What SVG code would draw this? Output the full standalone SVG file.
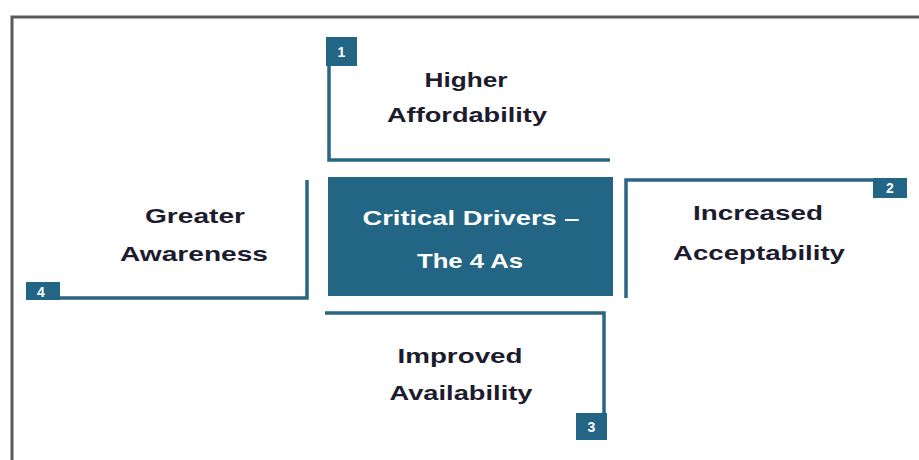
<svg xmlns="http://www.w3.org/2000/svg" width="919" height="460" viewBox="0 0 919 460">
<style>
.frame{fill:none;stroke:#5a5a5a;stroke-width:3}
.br{fill:none;stroke:#2a6683;stroke-width:3.5}
.badge{fill:#236584}
.num{font-family:"Liberation Sans",Arial,sans-serif;font-weight:bold;font-size:14px;fill:#ffffff;text-anchor:middle}
.lbl{font-family:"Liberation Sans",Arial,sans-serif;font-weight:bold;font-size:21px;fill:#1c1c2e;text-anchor:middle}
.ctr{font-family:"Liberation Sans",Arial,sans-serif;font-weight:bold;font-size:21px;fill:#ffffff;text-anchor:middle}
</style>
<rect width="919" height="460" fill="#ffffff"/>
<path class="frame" d="M12,460 V17 H919"/>
<g id="center">
<rect x="328" y="177" width="285" height="119" fill="#236584"/>
<text class="ctr" x="471" y="225" textLength="217" lengthAdjust="spacingAndGlyphs">Critical Drivers –</text>
<text class="ctr" x="470" y="268" textLength="106" lengthAdjust="spacingAndGlyphs">The 4 As</text>
</g>
<g id="connectors">
<path class="br" d="M329,38 V160 H610"/>
<path class="br" d="M626,298 V180 H907"/>
<path class="br" d="M325,313 H604 V420"/>
<path class="br" d="M307,180 V298 H27"/>
</g>
<g id="node1">
<rect class="badge" x="326" y="37" width="31" height="29"/>
<text class="num" x="341.5" y="57">1</text>
<text class="lbl" x="466" y="87" textLength="83" lengthAdjust="spacingAndGlyphs">Higher</text>
<text class="lbl" x="467" y="122" textLength="160" lengthAdjust="spacingAndGlyphs">Affordability</text>
</g>
<g id="node2">
<rect class="badge" x="873" y="178" width="34" height="20"/>
<text class="num" x="890" y="193">2</text>
<text class="lbl" x="758" y="220" textLength="130" lengthAdjust="spacingAndGlyphs">Increased</text>
<text class="lbl" x="759" y="260" textLength="172" lengthAdjust="spacingAndGlyphs">Acceptability</text>
</g>
<g id="node3">
<rect class="badge" x="576" y="413" width="31" height="27"/>
<text class="num" x="591.5" y="432">3</text>
<text class="lbl" x="460" y="363" textLength="125" lengthAdjust="spacingAndGlyphs">Improved</text>
<text class="lbl" x="461" y="400" textLength="143" lengthAdjust="spacingAndGlyphs">Availability</text>
</g>
<g id="node4">
<rect class="badge" x="26" y="282" width="34" height="18"/>
<text class="num" x="41" y="297">4</text>
<text class="lbl" x="195" y="223" textLength="100" lengthAdjust="spacingAndGlyphs">Greater</text>
<text class="lbl" x="194" y="261" textLength="148" lengthAdjust="spacingAndGlyphs">Awareness</text>
</g>
</svg>
